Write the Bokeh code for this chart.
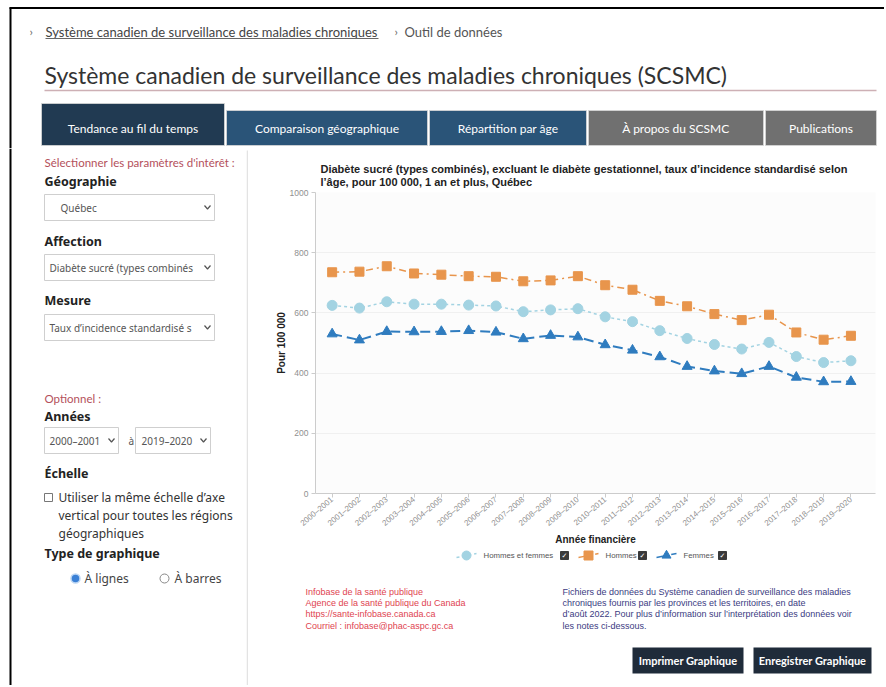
from bokeh.plotting import figure
from bokeh.layouts import column, row
from bokeh.models import Range1d, FixedTicker, ColumnDataSource
from bokeh.core.properties import value
from bokeh.embed import file_html
from bokeh.resources import INLINE

# ---------------- data ----------------
years = ["2000–2001", "2001–2002", "2002–2003", "2003–2004", "2004–2005",
         "2005–2006", "2006–2007", "2007–2008", "2008–2009", "2009–2010",
         "2010–2011", "2011–2012", "2012–2013", "2013–2014", "2014–2015",
         "2015–2016", "2016–2017", "2017–2018", "2018–2019", "2019–2020"]
hommes_et_femmes = [625, 616, 637, 629, 629, 626, 623, 604, 610, 614,
                    587, 571, 541, 515, 495, 480, 502, 455, 435, 441]
hommes = [735, 737, 755, 731, 727, 722, 720, 705, 708, 722,
          692, 677, 640, 622, 596, 576, 594, 535, 511, 524]
femmes = [530, 510, 538, 537, 538, 541, 536, 514, 525, 520,
          494, 476, 454, 422, 407, 398, 422, 386, 371, 372]
series_names = ["Hommes et femmes", "Hommes", "Femmes"]
y_ticks = [0, 200, 400, 600, 800, 1000]

tabs = ["Tendance au fil du temps", "Comparaison géographique", "Répartition par âge",
        "À propos du SCSMC", "Publications"]

C_HF = "#a3d3e2"
C_H = "#e8954c"
C_F = "#2f7cbf"

W = 884


def pixfig(w, h):
    f = figure(width=w, height=h, x_range=Range1d(0, w), y_range=Range1d(h, 0),
               output_backend="svg", toolbar_location=None, min_border=0,
               x_axis_location=None, y_axis_location=None,
               outline_line_color=None, background_fill_color="white",
               border_fill_color="white")
    f.grid.visible = False
    return f


def txt(f, x, y, s, size=12, color="#333333", font="Lato", style="normal",
        align="left", baseline="middle"):
    f.text(x=[x], y=[y], text=[s], text_font=value(font),
           text_font_size=value(f"{size}px"), text_color=color,
           text_font_style=style, text_align=align, text_baseline=baseline)


def box(f, l, r, t, b, fill="white", line=None, lw=1):
    f.quad(left=[l], right=[r], top=[t], bottom=[b], fill_color=fill,
           line_color=line, line_width=lw)


def chevron(f, xr, yc):
    f.line(x=[xr - 10, xr - 7, xr - 4], y=[yc - 2, yc + 1.5, yc - 2],
           line_color="#555555", line_width=1.2)


# ---------------- header ----------------
hdr = pixfig(W, 148)
box(hdr, 9, W, 6.5, 8.5, fill="black")
box(hdr, 9, 11, 7, 148, fill="black")
txt(hdr, 29, 31, "›", 12, "#666666")
txt(hdr, 45, 31, "Système canadien de surveillance des maladies chroniques", 13, "#444444")
hdr.line(x=[45, 378], y=[38, 38], line_color="#666666", line_width=1)
txt(hdr, 394, 31, "›", 12, "#666666")
txt(hdr, 404, 31, "Outil de données", 13, "#555555")
txt(hdr, 44, 74, "Système canadien de surveillance des maladies chroniques (SCSMC)", 23, "#333333")
hdr.line(x=[44, 876], y=[90, 90], line_color="#cdb0b5", line_width=1.5)

tab_lr = [(41, 224), (226, 427), (429, 586), (588, 763), (765, 876)]
tab_fill = ["#213a52", "#2a5478", "#2a5478", "#707070", "#707070"]
tab_top = [103, 110, 110, 110, 110]
for (l, r), fc, t, name in zip(tab_lr, tab_fill, tab_top, tabs):
    box(hdr, l, r, t, 145, fill=fc, line="#d8d8d8", lw=0.8)
    txt(hdr, (l + r) / 2, 128, name, 12, "white", align="center")

# ---------------- left panel ----------------
lp = pixfig(248, 537)
box(lp, 9, 11, 0, 537, fill="black")
lp.line(x=[247, 247], y=[2, 537], line_color="#e3e3e3", line_width=1.5)
RED = "#b4505b"
txt(lp, 44, 14, "Sélectionner les paramètres d'intérêt :", 11.5, RED)
txt(lp, 44, 33, "Géographie", 12.5, "#222222", "Noto Sans", "bold")
box(lp, 44, 214, 46, 72, line="#cfcfcf")
txt(lp, 60, 59, "Québec", 10, "#555555", "Noto Sans")
chevron(lp, 214, 59)
txt(lp, 44, 93, "Affection", 12.5, "#222222", "Noto Sans", "bold")
box(lp, 44, 214, 106, 132, line="#cfcfcf")
txt(lp, 49, 119, "Diabète sucré (types combinés", 10, "#555555", "Noto Sans")
box(lp, 202, 213, 108, 130, fill="white")
chevron(lp, 214, 119)
txt(lp, 44, 152, "Mesure", 12.5, "#222222", "Noto Sans", "bold")
box(lp, 44, 214, 166, 192, line="#cfcfcf")
txt(lp, 49, 179, "Taux d’incidence standardisé s", 10, "#555555", "Noto Sans")
box(lp, 202, 213, 168, 190, fill="white")
chevron(lp, 214, 179)

txt(lp, 44, 250, "Optionnel :", 11.5, RED)
txt(lp, 44, 268, "Années", 12.5, "#222222", "Noto Sans", "bold")
box(lp, 44, 118, 279, 305, line="#cfcfcf")
txt(lp, 49, 292, "2000–2001", 10, "#555555", "Noto Sans")
chevron(lp, 118, 292)
txt(lp, 128, 292, "à", 10, "#555555", "Noto Sans")
box(lp, 135, 210, 279, 305, line="#cfcfcf")
txt(lp, 141, 292, "2019–2020", 10, "#555555", "Noto Sans")
chevron(lp, 210, 292)

txt(lp, 44, 325, "Échelle", 12.5, "#222222", "Noto Sans", "bold")
box(lp, 44, 52, 345, 353, line="#777777")
txt(lp, 58, 349, "Utiliser la même échelle d’axe", 12, "#333333", "Noto Sans")
txt(lp, 58, 367, "vertical pour toutes les régions", 12, "#333333", "Noto Sans")
txt(lp, 58, 385, "géographiques", 12, "#333333", "Noto Sans")
txt(lp, 44, 405, "Type de graphique", 12.5, "#222222", "Noto Sans", "bold")
lp.scatter(x=[75], y=[430], marker="circle", size=9, fill_color="#3a80d6",
           line_color="#bcd6f3", line_width=1.5)
txt(lp, 84, 430, "À lignes", 12, "#444444", "Noto Sans")
lp.scatter(x=[164], y=[430], marker="circle", size=9, fill_color="white",
           line_color="#888888", line_width=1)
txt(lp, 174, 430, "À barres", 12, "#444444", "Noto Sans")

# ---------------- chart title ----------------
RW = W - 248
tf = pixfig(RW, 40)
txt(tf, 72, 20, "Diabète sucré (types combinés), excluant le diabète gestationnel, taux d’incidence standardisé selon",
    11, "#222222", "Liberation Sans", "bold")
txt(tf, 72, 33, "l’âge, pour 100 000, 1 an et plus, Québec", 11, "#222222", "Liberation Sans", "bold")

# ---------------- chart ----------------
xs = list(range(len(years)))
src = ColumnDataSource(dict(x=xs, hf=hommes_et_femmes, h=hommes, f=femmes))
p = figure(width=RW, height=361, x_range=Range1d(-0.61, 19.9), y_range=Range1d(0, 1000),
           output_backend="svg", toolbar_location=None,
           min_border_left=67, min_border_right=9, min_border_top=4, min_border_bottom=56,
           outline_line_color=None, background_fill_color="#fcfcfc",
           border_fill_color="white")
p.xaxis.ticker = FixedTicker(ticks=xs)
p.xaxis.major_label_overrides = {i: y for i, y in enumerate(years)}
p.yaxis.ticker = FixedTicker(ticks=y_ticks)
for ax in (p.xaxis[0], p.yaxis[0]):
    ax.axis_line_color = "#cccccc"
    ax.major_tick_line_color = "#cccccc"
    ax.major_tick_out = 4
    ax.major_tick_in = 0
    ax.minor_tick_line_color = None
    ax.major_label_text_color = "#8f8f8f"
    ax.major_label_text_font = "Liberation Sans"
    ax.major_label_text_font_size = "8px"
    ax.axis_label_text_font = "Liberation Sans"
    ax.axis_label_text_font_style = "bold"
    ax.axis_label_text_font_size = "10px"
    ax.axis_label_text_color = "#222222"
p.yaxis.major_label_text_font_size = "8.5px"
p.xaxis.major_label_orientation = 0.70
p.xaxis.major_label_standoff = 1
p.xaxis.axis_label = "Année financière"
p.xaxis.axis_label_standoff = 0
p.yaxis.axis_label = "Pour 100 000"
p.yaxis.axis_label_standoff = 0
p.yaxis.major_label_standoff = 3
p.xgrid.grid_line_color = None
p.ygrid.grid_line_color = "#f0f0f0"

p.line("x", "hf", source=src, line_color=C_HF, line_width=1.5, line_dash="3 3")
p.scatter("x", "hf", source=src, marker="circle", size=10, fill_color=C_HF, line_color=C_HF)
p.line("x", "h", source=src, line_color=C_H, line_width=1.5, line_dash="7 4 2 4")
p.scatter("x", "h", source=src, marker="square", size=9, fill_color=C_H, line_color=C_H)
p.line("x", "f", source=src, line_color=C_F, line_width=2, line_dash="10 5")
p.scatter("x", "f", source=src, marker="triangle", size=10, fill_color=C_F, line_color=C_F)

# ---------------- footer (legend, sources, buttons) ----------------
ft = pixfig(RW, 136)
leg = [(208, 235, 312, C_HF, "3 3", "circle"),
       (330, 357, 390, C_H, "7 4 2 4", "square"),
       (408, 435, 470, C_F, "10 5", "triangle")]
for (sx, tx, cx, col, dash, mk), name in zip(leg, series_names):
    ft.line(x=[sx, sx + 20], y=[8, 4], line_color=col, line_width=1.5, line_dash=dash)
    ft.scatter(x=[sx + 10], y=[6], marker=mk, size=9, fill_color=col, line_color=col)
    txt(ft, tx, 6, name, 7.8, "#555555", "Liberation Sans")
    box(ft, cx, cx + 8, 2, 10, fill="#3a3a3a", line="#3a3a3a")
    txt(ft, cx + 4, 6, "✓", 7, "white", "DejaVu Sans", "bold", align="center")

FRED = "#e0434f"
for i, s in enumerate(["Infobase de la santé publique", "Agence de la santé publique du Canada",
                       "https://sante-infobase.canada.ca", "Courriel : infobase@phac-aspc.gc.ca"]):
    txt(ft, 57, 42 + i * 11.4, s, 9, FRED, "Liberation Sans")
FBLUE = "#3b3b82"
for i, s in enumerate(["Fichiers de données du Système canadien de surveillance des maladies",
                       "chroniques fournis par les provinces et les territoires, en date",
                       "d’août 2022. Pour plus d’information sur l’interprétation des données voir",
                       "les notes ci-dessous."]):
    txt(ft, 314, 42 + i * 11.4, s, 9, FBLUE, "Liberation Sans")

box(ft, 384, 495, 98, 124, fill="#1f2b3a")
txt(ft, 439.5, 111, "Imprimer Graphique", 11, "white", "Lato", "bold", align="center")
box(ft, 505, 623, 98, 124, fill="#1f2b3a")
txt(ft, 564, 111, "Enregistrer Graphique", 11, "white", "Lato", "bold", align="center")

layout = column(hdr, row(lp, column(tf, row(p), ft)))
open("out.html", "w").write(file_html(layout, INLINE))
